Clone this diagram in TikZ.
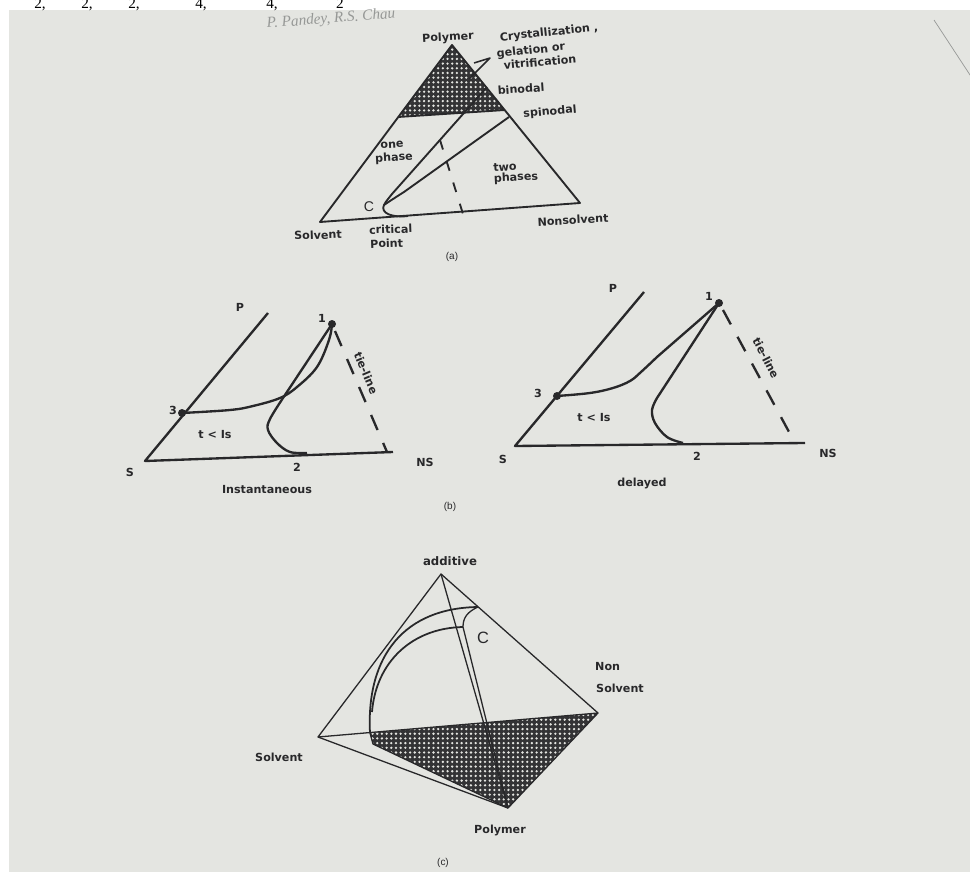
\documentclass[tikz,border=0pt]{standalone}
\usepackage{fontspec}
\setsansfont{DejaVu Sans}
\newfontfamily\plainsans{Liberation Sans}
\newfontfamily\pageserif{Liberation Serif}
\usetikzlibrary{patterns,patterns.meta}
\definecolor{photobg}{RGB}{228,229,225}
\definecolor{printgray}{RGB}{150,152,150}
\definecolor{ink}{RGB}{40,40,42}

\tikzdeclarepattern{
  name=meshdots,
  type=uncolored,
  bottom left={(-.1pt,-.1pt)},
  top right={(4.1pt,4.1pt)},
  tile size={(4pt,4pt)},
  code={\fill (2pt,2pt) circle [radius=1.1pt];}
}

\tikzset{
  lbl/.style={font=\sffamily\bfseries\fontsize{9.5}{11}\selectfont, inner sep=0pt, text=ink},
  biglbl/.style={font=\plainsans\fontsize{12}{14}\selectfont, inner sep=0pt, text=ink},
  capt/.style={font=\plainsans\fontsize{8.5}{10}\selectfont, inner sep=0pt, text=ink},
  meshzone/.style={preaction={fill=ink!95}, pattern=meshdots, pattern color=photobg},
  edgeA/.style={draw=ink, line width=1.6pt},
  edgeB/.style={draw=ink, line width=2pt},
  edgeC/.style={draw=ink, line width=1.1pt},
  tieA/.style={dash pattern=on 8.5pt off 10.5pt},
  tieB/.style={dash pattern=on 14pt off 12pt},
  pointdot/.style={fill=ink}
}

\begin{document}
\begin{tikzpicture}[x=0.03cm,y=-0.03cm,line join=round]
\useasboundingbox (0,0) rectangle (970,872);
\fill[white] (0,0) rectangle (970,872);
\fill[photobg] (9,10) rectangle (970,872);
\draw[printgray, line width=0.6pt] (934,20) -- (972,78);

% page remains above the photo
\foreach \x/\t in {40/{2,},87/{2,},134/{2,},201/{4,},272/{4,},340/{2}}
  \node[font=\pageserif\fontsize{13}{15}\selectfont, anchor=base, inner sep=0pt] at (\x,9) {\t};
\node[font=\pageserif\itshape\fontsize{13}{15}\selectfont, text=printgray, anchor=base west, inner sep=0pt, rotate=4.5] (head) at (267,28) {P. Pandey, R.S. Chau};

% (a) one ternary
\coordinate (aPol) at (452,45);
\coordinate (aSol) at (320,222);
\coordinate (aNon) at (580,203);
\coordinate (aShL) at (398,117);
\coordinate (aShR) at (505,110);
\fill[meshzone] (aPol) -- (aShL) -- (aShR) -- cycle;
\draw[edgeA] (aPol) -- (aSol) -- (aNon) -- cycle;
\draw[edgeA] (aShL) -- (aShR);
% binodal, spinodal
\draw[edgeA] (408,216) .. controls (392,218) and (380,213) .. (384,205) .. controls (386,201) and (389,198) .. (392,194) -- (487,87);
\draw[edgeA] (384,205) .. controls (390,201) and (396,197) .. (404,192) -- (509,117);
\draw[edgeA, tieA] (440,140) -- (463,214);
% pointer to the gelation zone
\draw[edgeA, line width=1.3pt] (474,63) -- (490,58) -- (469,79);

\node[lbl, rotate=3] (aPolLbl) at (448,38) {Polymer};
\node[lbl, rotate=6] (aCry) at (549,33) {Crystallization ,};
\node[lbl, rotate=6] (aGel) at (531,51) {gelation or};
\node[lbl, rotate=5] (aVit) at (540,62) {vitrification};
\node[lbl, rotate=4] (aBin) at (521,89) {binodal};
\node[lbl, rotate=5] (aSpi) at (550,112) {spinodal};
\node[lbl, rotate=3] (aOne) at (392,145) {one};
\node[lbl, rotate=3] (aPha) at (394,158) {phase};
\node[lbl, rotate=3] (aTwo) at (505,167) {two};
\node[lbl, rotate=3] (aPhs) at (516,178) {phases};
\node[biglbl] (aC) at (369,207) {C};
\node[lbl, rotate=2] (aSolLbl) at (318,235) {Solvent};
\node[lbl, rotate=2, anchor=west] (aCri) at (369,230) {critical};
\node[lbl, rotate=2, anchor=west] (aPoi) at (370,244) {Point};
\node[lbl, rotate=3] (aNonLbl) at (573,220) {Nonsolvent};
\node[capt] (capA) at (452,257) {(a)};

% (b) instantaneous
\coordinate (bS) at (145,461);
\coordinate (bP) at (268,313);
\coordinate (bNS) at (393,452);
\coordinate (bT) at (387,452);
\coordinate (b1) at (332,324);
\coordinate (b3) at (182,413);
\coordinate (b2) at (307,453);
\draw[edgeB] (bP) -- (bS) -- (bNS);
\draw[edgeB, tieB] (335,331) -- (bT);
\draw[edgeB] plot[smooth, tension=0.6] coordinates {(b3) (230,410) (253,406) (280,398) (297,387) (317,367) (329,340) (b1)};
\draw[edgeB] plot[smooth, tension=0.6] coordinates {(b2) (290,452) (277,443) (268,430) (270,419) (283,398)} -- (b1);
\fill[pointdot] (b1) circle (4);
\fill[pointdot] (b3) circle (4);
\node[lbl] (bPLbl) at (240,307) {P};
\node[lbl] (b1Lbl) at (322,318) {1};
\node[lbl] (b3Lbl) at (173,410) {3};
\node[lbl] (bIs) at (215,435) {t < Is};
\node[lbl] (bSLbl) at (130,472) {S};
\node[lbl] (b2Lbl) at (297,467) {2};
\node[lbl] (bNSLbl) at (425,462) {NS};
\node[lbl] (bIns) at (267,490) {Instantaneous};
\node[lbl, rotate=-67] (bTie) at (366,373) {tie-line};

% (b) delayed
\coordinate (dS) at (515,446);
\coordinate (dP) at (644,292);
\coordinate (dNS) at (805,443);
\coordinate (dT) at (795,443);
\coordinate (d1) at (719,303);
\coordinate (d3) at (557,396);
\coordinate (d2) at (683,443);
\draw[edgeB] (dP) -- (dS) -- (dNS);
\draw[edgeB, tieB] (723,310) -- (dT);
\draw[edgeB] plot[smooth, tension=0.6] coordinates {(d3) (590,393) (613,388) (630,381) (641,372) (657,357)} -- (d1);
\draw[edgeB] plot[smooth, tension=0.6] coordinates {(d2) (667,437) (655,423) (652,410) (657,398)} -- (d1);
\fill[pointdot] (d1) circle (4);
\fill[pointdot] (d3) circle (4);
\node[lbl] (dPLbl) at (613,288) {P};
\node[lbl] (d1Lbl) at (709,296) {1};
\node[lbl] (d3Lbl) at (538,393) {3};
\node[lbl] (dIs) at (594,418) {t < Is};
\node[lbl] (dSLbl) at (503,459) {S};
\node[lbl] (d2Lbl) at (697,456) {2};
\node[lbl] (dNSLbl) at (828,453) {NS};
\node[lbl] (dDel) at (642,483) {delayed};
\node[lbl, rotate=-63] (dTie) at (766,358) {tie-line};
\node[capt] (capB) at (450,507) {(b)};

% (c) tetrahedron
\coordinate (cAdd) at (441,574);
\coordinate (cSol) at (318,737);
\coordinate (cNon) at (598,713);
\coordinate (cPol) at (508,808);
\coordinate (cShA) at (370,733);
\coordinate (cShB) at (373,744);
\coordinate (cArcO) at (478,607);
\coordinate (cArcI) at (463,627);
\fill[meshzone] (cShA) -- (cNon) -- (cPol) -- (cShB) -- cycle;
\draw[edgeC] (cAdd) -- (cSol) -- (cPol) -- (cNon) -- cycle;
\draw[edgeC] (cSol) -- (cNon);
\draw[edgeC] (cAdd) -- (cPol);
\draw[edgeC] (cShA) -- (cShB) -- (cPol);
\draw[edgeC, line width=1.5pt] (cShA) .. controls (366,655) and (405,608) .. (cArcO);
\draw[edgeC, line width=1.5pt] (372,712) .. controls (376,662) and (412,628) .. (cArcI);
\draw[edgeC] (cArcO) .. controls (467,612) and (463,618) .. (cArcI) -- (cPol);
\node[lbl, font=\sffamily\bfseries\fontsize{10}{12}\selectfont] (cAddLbl) at (450,561) {additive};
\node[lbl, anchor=west] (cNonLbl) at (595,667) {Non};
\node[lbl, anchor=west] (cNSolLbl) at (596,688) {Solvent};
\node[lbl] (cSolLbl) at (279,757) {Solvent};
\node[lbl] (cPolLbl) at (500,830) {Polymer};
\node[biglbl, font=\plainsans\fontsize{14}{16}\selectfont] (cC) at (483,638) {C};
\node[capt] (capC) at (443,863) {(c)};
\end{tikzpicture}
\end{document}
